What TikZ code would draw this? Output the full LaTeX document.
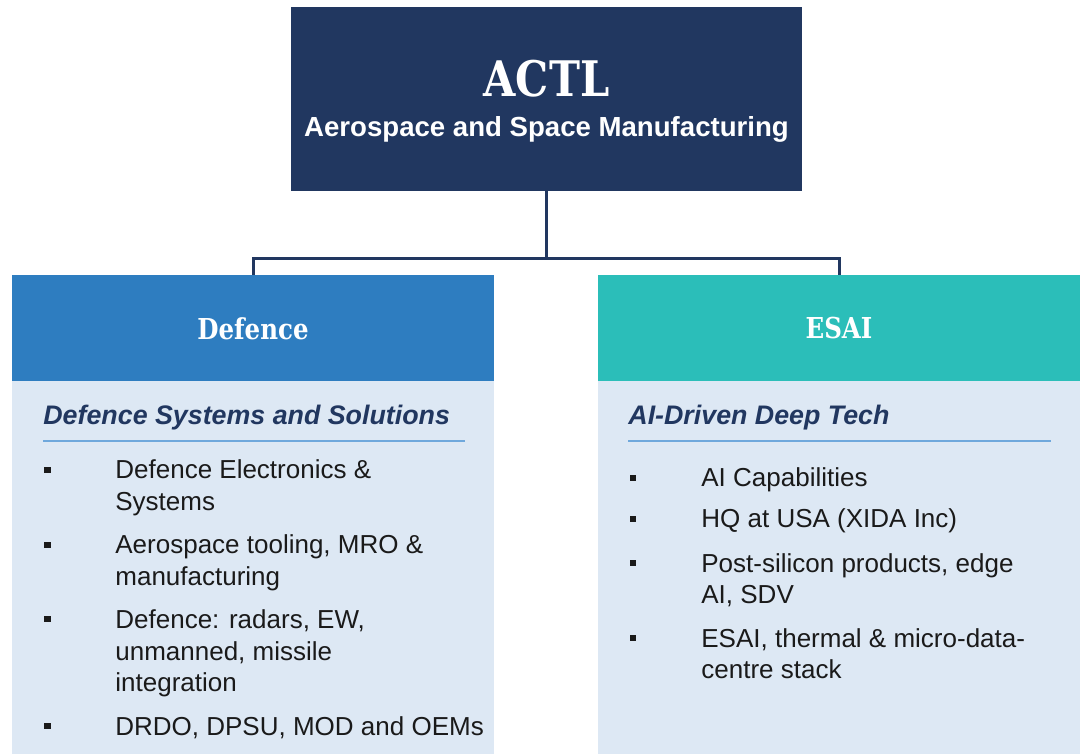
\documentclass[tikz,border=0pt]{standalone}
\usepackage{fontspec}
\setmainfont{Liberation Sans}
\newfontfamily\slab[FakeStretch=0.85]{DejaVu Serif}
\usepackage{xcolor}
\usetikzlibrary{positioning}
\definecolor{navy}{RGB}{33,55,96}
\definecolor{defblue}{RGB}{46,125,192}
\definecolor{esaiteal}{RGB}{43,190,185}
\definecolor{panelbg}{RGB}{221,232,244}
\definecolor{rulecol}{RGB}{111,168,220}
\definecolor{ink}{RGB}{26,26,26}
\tikzset{
    topbox/.style={fill=navy, minimum width=255.5pt, minimum height=92pt, inner sep=0pt},
    headbox/.style={minimum width=241pt, minimum height=53pt, inner sep=0pt, text=white,
        font=\slab\bfseries\fontsize{14.4}{17}\selectfont},
    panel/.style={fill=panelbg, minimum width=241pt, minimum height=186.5pt, inner sep=0pt},
    link/.style={draw=navy, line width=1.5pt},
    subhead/.style={anchor=base west, inner sep=0pt, text=navy,
        font=\bfseries\itshape\fontsize{13.4}{16}\selectfont},
    item/.style={anchor=base west, inner sep=0pt, align=left, text=ink,
        font=\fontsize{13}{16}\selectfont},
    sq/.style={fill=ink, minimum size=3.4pt, inner sep=0pt},
    rule/.style={draw=rulecol, line width=1pt}
}
\begin{document}
\begin{tikzpicture}[x=0.5pt, y=-0.5pt]
                    \useasboundingbox (0, 0) rectangle (1089, 754);

                    % top company box
                    \node[topbox] (actl) at (546.5, 99) {};
                    \node[anchor=base, inner sep=0pt, text=white, font=\slab\bfseries\fontsize{24.5}{28}\selectfont]
                        (actl-name) at (546.5, 97) {ACTL};
                    \node[anchor=base, inner sep=0pt, text=white, font=\bfseries\fontsize{13.8}{16}\selectfont]
                        (actl-sub) at (546.5, 137) {Aerospace and Space Manufacturing};

                    % the two divisions
                    \node[panel] (def-panel) at (253, 567.5) {};
                    \node[panel] (esai-panel) at (839, 567.5) {};
                    \node[headbox, fill=defblue] (def) at (253, 328.5) {Defence};
                    \node[headbox, fill=esaiteal] (esai) at (839, 328.5) {ESAI};

                    \draw[link] (actl.south) -- ++(0, 67) coordinate (fork) -| (def.north);
                    \draw[link] (fork) -| (esai.north);

                    \node[subhead] (def-title) at (43, 425) {Defence Systems and Solutions};
                    \draw[rule] (43, 441.5) -- (465, 441.5);
                    \node[subhead] (esai-title) at (628, 425) {AI-Driven Deep Tech};
                    \draw[rule] (628, 441.5) -- (1051, 441.5);

                    % bullet lists: first baseline / last baseline / text
                    \foreach \y/\z/\t [count=\i] in {479/511/{Defence Electronics \&\\Systems},
                        554/586/{Aerospace tooling, MRO \&\\manufacturing},
                        628/692/{Defence: radars, EW,\\unmanned, missile\\integration},
                        735/735/{DRDO, DPSU, MOD and OEMs}} {
                        \node[sq] (def-dot\i) at (47.5, \y-9) {};
                        \node[item] (def-item\i) at (115, \z) {\t};
                    }

                    \foreach \y/\z/\t [count=\i] in {487/487/{AI Capabilities},
                        528/528/{HQ at USA (XIDA Inc)},
                        572/604/{Post-silicon products, edge\\AI, SDV},
                        647/679/{ESAI, thermal \& micro-data-\\centre stack}} {
                        \node[sq] (esai-dot\i) at (633, \y-9) {};
                        \node[item] (esai-item\i) at (701, \z) {\t};
                    }
                \end{tikzpicture}
\end{document}
